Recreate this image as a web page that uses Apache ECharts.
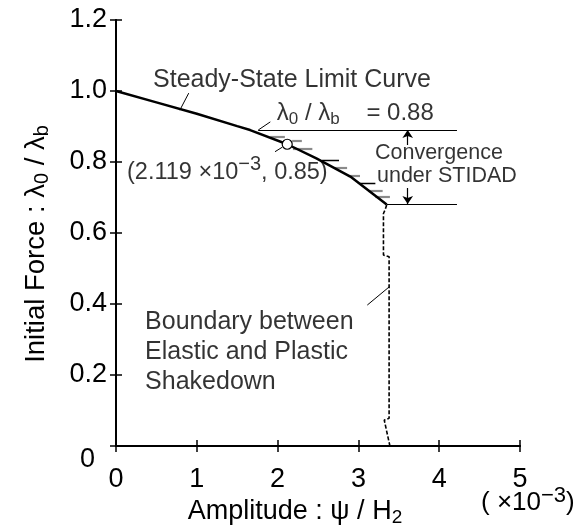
<!DOCTYPE html>
<html><head><meta charset="utf-8">
<script src="https://cdn.jsdelivr.net/npm/echarts@6/dist/echarts.min.js"></script>
<style>html,body{margin:0;padding:0;background:#fff}#c{width:581px;height:529px}</style>
</head><body><div id="c"></div>
<script>
// ---- data (x in 1e-3 units) ----
const curveX = [0, 0.5, 1.0, 1.5, 1.66, 2.119, 2.48, 2.9, 3.35];
const curveY = [1.0, 0.968, 0.936, 0.901, 0.89, 0.85, 0.81, 0.759, 0.68];
const boundaryX = [3.35, 3.33, 3.31, 3.31, 3.38, 3.38, 3.32, 3.39];
const boundaryY = [0.679, 0.665, 0.655, 0.538, 0.533, 0.078, 0.073, 0.0];
const hatchGrey = [[1.91, 2.09, 0.871], [2.18, 2.30, 0.859], [2.19, 2.43, 0.837], [2.71, 2.86, 0.784], [2.87, 3.02, 0.761], [3.12, 3.30, 0.719], [3.21, 3.39, 0.702]];
const hatchBlack = [[2.55, 2.76, 0.806], [3.02, 3.21, 0.740]];
const refLines = [[1.76, 4.22, 0.89], [3.35, 4.22, 0.682]];
const arrows = [[3.61, 0.848, 0.89], [3.61, 0.727, 0.682]];
const leaders = [[[0.90, 0.994], [0.79, 0.946]], [[1.91, 0.913], [1.76, 0.89]], [[1.968, 0.829], [2.06, 0.842]], [[3.11, 0.397], [3.38, 0.448]]];
const markedPoint = [2.119, 0.85];
const annoX = [0.458, 1.99, 0.136, 3.205, 3.23, 0.36];
const annoY = [1.031, 0.938, 0.769, 0.824, 0.761, 0.265];
const annoText = [
  'Steady-State Limit Curve',
  'λ{sub|0} / λ{sub|b}    = 0.88',
  '(2.119 ×10{sup|−3}, 0.85)',
  'Convergence',
  'under STIDAD',
  'Boundary between\nElastic and Plastic\nShakedown'
];
const yTickLabels = ['0', '0.2', '0.4', '0.6', '0.8', '1.0', '1.2'];
const xTickLabels = ['0', '1', '2', '3', '4', '5'];

// ---- styling ----
const FF = 'Liberation Sans, Arial, Helvetica, sans-serif';
const annoSize = [25, 24, 23.5, 21.5, 21.5, 25];
function richFor(size, ratio) {
  const s = Math.round(size * (ratio || 0.72));
  return {
    sub: { fontFamily: FF, fontSize: s, color: '#000', padding: [12, 0, 0, 0] },
    sup: { fontFamily: FF, fontSize: s, color: '#000', padding: [0, 0, 18, 0] }
  };
}

const chart = echarts.init(document.getElementById('c'), null, { renderer: 'canvas' });
const axisCommon = {
  type: 'value',
  axisLine: { show: true, lineStyle: { color: '#000', width: 2 } },
  axisTick: { show: true, inside: true, length: 6, lineStyle: { color: '#000', width: 1.5 } },
  splitLine: { show: false }
};

const option = {
  animation: false,
  backgroundColor: '#fff',
  grid: { left: 116, right: 61, top: 20, bottom: 83, containLabel: false, outerBoundsMode: 'none' },
  xAxis: [
    Object.assign({}, axisCommon, {
      min: 0, max: 5, interval: 1, position: 'bottom',
      axisLabel: { color: '#000', fontFamily: FF, fontSize: 27, margin: 20,
        formatter: v => xTickLabels[Math.round(v)] },
      name: 'Amplitude : ψ / H{sub|2}', nameLocation: 'middle', nameGap: 47,
      nameTextStyle: { color: '#000', fontFamily: FF, fontSize: 27, padding: [0, 46, 0, 0], rich: richFor(27) }
    }),
    Object.assign({}, axisCommon, {
      min: 0, max: 5, interval: 1, position: 'top', axisLabel: { show: false }
    })
  ],
  yAxis: [
    Object.assign({}, axisCommon, {
      min: 0, max: 1.2, interval: 0.2, position: 'left',
      axisLabel: { color: '#000', fontFamily: FF, fontSize: 27, margin: 9,
        formatter: v => { const i = Math.round(v / 0.2); return i === 0 ? '{z|0}' : yTickLabels[i]; },
        rich: { z: { fontFamily: FF, fontSize: 27, color: '#000', padding: [28, 12, 0, 0] } } },
      name: 'Initial Force : λ{sub|0} / λ{sub|b}', nameLocation: 'middle', nameGap: 64,
      nameTextStyle: { color: '#000', fontFamily: FF, fontSize: 27.5, padding: [0, 22, 0, 0], rich: richFor(27.5) }
    }),
    Object.assign({}, axisCommon, {
      min: 0, max: 1.2, interval: 0.2, position: 'right', axisLabel: { show: false }
    })
  ],
  graphic: [{
    type: 'text', left: 481, top: 485, silent: true,
    style: { text: '( ×10{sup|−3})', fill: '#000', fontFamily: FF, fontSize: 26,
      rich: { sup: { fontFamily: FF, fontSize: 22, fill: '#000', padding: [0, 0, 14, 0] } } }
  }],
  series: [
    { type: 'line', data: curveX.map((x, i) => [x, curveY[i]]), symbol: 'none', z: 5,
      lineStyle: { color: '#000', width: 2.5 } },
    { type: 'line', data: boundaryX.map((x, i) => [x, boundaryY[i]]), symbol: 'none', z: 5,
      lineStyle: { color: '#000', width: 1.6, type: [4, 2] } },
    { type: 'lines', coordinateSystem: 'cartesian2d', z: 3,
      data: hatchGrey.map(h => ({ coords: [[h[0], h[2]], [h[1], h[2]]] })),
      lineStyle: { color: '#8a8a8a', width: 2.2, opacity: 1 } },
    { type: 'lines', coordinateSystem: 'cartesian2d', z: 3,
      data: hatchBlack.map(h => ({ coords: [[h[0], h[2]], [h[1], h[2]]] })),
      lineStyle: { color: '#000', width: 1.3, opacity: 1 } },
    { type: 'lines', coordinateSystem: 'cartesian2d', z: 3,
      data: refLines.map(h => ({ coords: [[h[0], h[2]], [h[1], h[2]]] })),
      lineStyle: { color: '#000', width: 1.2, opacity: 1 } },
    { type: 'lines', coordinateSystem: 'cartesian2d', z: 3,
      data: leaders.map(l => ({ coords: l })),
      lineStyle: { color: '#000', width: 1, opacity: 1 } },
    { type: 'lines', coordinateSystem: 'cartesian2d', z: 3,
      symbol: ['none', 'arrow'], symbolSize: 8,
      data: arrows.map(a => ({ coords: [[a[0], a[1]], [a[0], a[2]]] })),
      lineStyle: { color: '#000', width: 1.2, opacity: 1 }, itemStyle: { color: '#000' } },
    { type: 'scatter', data: [markedPoint], symbol: 'circle', symbolSize: 10, z: 8,
      itemStyle: { color: '#fff', borderColor: '#000', borderWidth: 1.2, opacity: 1 } },
    { type: 'scatter', symbolSize: 0, z: 9, silent: true,
      data: annoX.map((x, i) => ({
        value: [x, annoY[i]],
        label: { show: true, position: 'right', distance: 0, align: 'left', verticalAlign: 'middle',
          formatter: annoText[i], color: '#000', fontFamily: FF, fontSize: annoSize[i],
          lineHeight: annoSize[i] >= 25 ? 30 : undefined, rich: richFor(annoSize[i], i === 2 ? 0.85 : 0.72) }
      })) }
  ]
};
chart.setOption(option);
</script></body></html>
